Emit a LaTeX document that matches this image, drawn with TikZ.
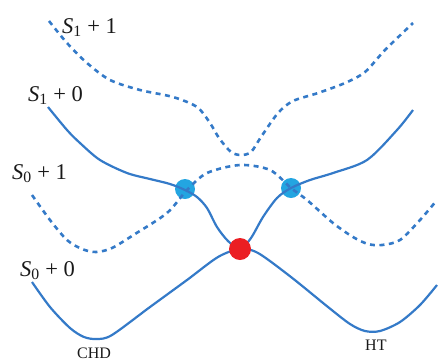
\documentclass[tikz,border=0pt]{standalone}
\usepackage{fontspec}
\setmainfont{Liberation Serif}
\definecolor{curva}{RGB}{52,122,200}
\definecolor{azulci}{RGB}{35,165,225}
\definecolor{vermelhoci}{RGB}{235,30,35}
\tikzset{
  estado/.style={curva, line width=2.2pt},
  estadofoton/.style={curva, line width=2.6pt, dash pattern=on 5pt off 4.5pt},
  rotulo/.style={inner sep=0pt, anchor=base west, text=black!90,
                 font=\fontsize{22.5}{24}\selectfont},
  rotulomin/.style={inner sep=0pt, anchor=base west, text=black!90,
                 font=\fontsize{16}{18}\selectfont},
  ponto/.style={circle, inner sep=0pt, minimum size=#1}
}
\begin{document}
\begin{tikzpicture}[x=1pt,y=-1pt]
    \useasboundingbox (0,0) rectangle (438,360);
    % Intersecoes conicas S1/S0+1
    \node[ponto=20pt, fill=azulci] (ciesq) at (185,189) {};
    \node[ponto=20pt, fill=azulci] (cidir) at (291,188) {};

    % S1 + 1
    \draw[estadofoton] plot[smooth] coordinates {(49,21) (67,43) (87,63) (110,80)
        (140,90) (173,97) (197,107) (210,123) (219,138) (231,152) (241,155)
        (251,152) (261,137) (278,113) (293,101) (318,93) (345,83) (365,72)
        (385,50) (413,23)};
    % S1 + 0
    \draw[estado] plot[smooth] coordinates {(48,107) (67,130) (80,143) (100,160)
        (127,173) (150,179) (170,184) (185,190) (197,197) (207,208) (217,227)
        (228,241) (240,249) (251,238) (263,217) (277,198) (291,188) (310,180)
        (333,173) (367,160) (397,130) (413,110)};
    % S0 + 1
    \draw[estadofoton] plot[smooth] coordinates {(32,195) (50,220) (67,240)
        (82,249) (96,252) (112,248) (135,234) (167,213) (187,190) (207,173)
        (240,165) (270,170) (291,188) (307,200) (333,223) (353,237) (368,244)
        (382,245) (400,240) (420,220) (437,200)};
    % S0 + 0
    \draw[estado] plot[smooth] coordinates {(32,282) (50,307) (70,328) (84,337)
        (97,339) (112,335) (150,307) (187,280) (218,257) (240,249) (258,253)
        (291,277) (328,307) (350,324) (365,331) (380,331) (400,322) (420,305)
        (437,285)};

    % Intersecao conica S1/S0
    \node[ponto=22pt, fill=vermelhoci] (cicentro) at (240,249) {};

    \node[rotulo] (s1um) at (62,33) {\textit{S}\textsubscript{1} + 1};
    \node[rotulo] (s1zero) at (28,101) {\textit{S}\textsubscript{1} + 0};
    \node[rotulo] (s0um) at (12,179) {\textit{S}\textsubscript{0} + 1};
    \node[rotulo] (s0zero) at (20,276) {\textit{S}\textsubscript{0} + 0};
    \node[rotulomin] (chd) at (77,358) {CHD};
    \node[rotulomin] (ht) at (365,350) {HT};
\end{tikzpicture}
\end{document}
